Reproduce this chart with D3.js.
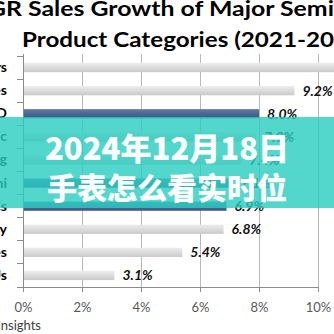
<!DOCTYPE html>
<html><head><meta charset="utf-8">
<script src="https://cdn.jsdelivr.net/npm/d3@7"></script>
<style>html,body{margin:0;padding:0;background:#fff;overflow:hidden}</style>
</head><body><svg id="c" width="334" height="334"></svg>
<script>
const categories = ["Sensors/Actuators","Opto Devices","Total O-S-D","Logic","Analog","Total Semi","Total ICs","Memory","Discretes","MPUs"];
const values = [11.4, 9.2, 8.0, 7.9, 7.4, 7.1, 6.9, 6.8, 5.4, 3.1];
const valueLabels = ["11.4%","9.2%","8.0%","7.9%","7.4%","7.1%","6.9%","6.8%","5.4%","3.1%"];
const highlighted = ["Total O-S-D","Total Semi","Total ICs"];
const xTicks = [0,2,4,6,8,10];
const titleLines = ["CAGR Sales Growth of Major Semiconductor","Product Categories (2021-2026)"];
const overlayLines = ["2024年12月18日","手表怎么看实时位"];
const sourceText = "Source: IC Insights";

const svg = d3.select("#c");
const W = 334, H = 334;
const x = d3.scaleLinear().domain([0,10]).range([23,318]);
const y = d3.scaleBand().domain(categories).range([56,287]).paddingInner(0.6).paddingOuter(0.3);

const defs = svg.append("defs");
function grad(id, stops){
  const g = defs.append("linearGradient").attr("id",id).attr("x1",0).attr("y1",0).attr("x2",0).attr("y2",1);
  stops.forEach(s=>g.append("stop").attr("offset",s[0]).attr("stop-color",s[1]));
}
grad("gGrey",[["0%","#ececec"],["45%","#dedede"],["100%","#c9c9c9"]]);
grad("gBlue",[["0%","#607ca6"],["50%","#4c6892"],["100%","#3d5781"]]);

// title
const tFont = "Lato, 'Open Sans', sans-serif";
const tSize = 21;
function measure(str){
  const t = svg.append("text").attr("font-family",tFont).attr("font-weight","bold").attr("font-size",tSize).attr("xml:space","preserve").text(str);
  const w = t.node().getComputedTextLength(); t.remove(); return w;
}
const l1pre = measure("CAGR "), l1vis = measure("Sales Growth of Major Semi"), l1full = measure(titleLines[0]);
const k1 = 306 / l1vis;
svg.append("text").attr("x",28 - l1pre*k1).attr("y",16).attr("font-family",tFont).attr("font-weight","bold").attr("font-size",tSize)
  .attr("textLength",l1full*k1).attr("lengthAdjust","spacingAndGlyphs").attr("fill","#000").text(titleLines[0]);
const l2vis = measure("Product Categories (2021-20"), l2full = measure(titleLines[1]);
const k2 = 312 / l2vis;
svg.append("text").attr("x",22).attr("y",47).attr("font-family",tFont).attr("font-weight","bold").attr("font-size",tSize)
  .attr("textLength",l2full*k2).attr("lengthAdjust","spacingAndGlyphs").attr("fill","#000").text(titleLines[1]);

// gridlines
svg.append("g").selectAll("line").data(xTicks).join("line")
  .attr("x1",d=>x(d)).attr("x2",d=>x(d)).attr("y1",54).attr("y2",292)
  .attr("stroke",d=>d===0?"#8c8c8c":"#b8b8b8").attr("stroke-width",1).attr("shape-rendering","crispEdges");

// x axis
const xa = svg.append("g").attr("transform","translate(0,287)")
  .call(d3.axisBottom(x).tickValues(xTicks).tickFormat(d=>d+"%").tickSize(5).tickPadding(11));
xa.select(".domain").attr("stroke","#8c8c8c");
xa.selectAll(".tick line").attr("stroke","#8c8c8c");
xa.selectAll("text").attr("font-family","Lato, sans-serif").attr("font-size",13).attr("fill","#595959");

// y axis
const ya = svg.append("g").attr("transform","translate(23,0)")
  .call(d3.axisLeft(y).tickSize(0).tickPadding(16));
ya.select(".domain").attr("stroke","#8c8c8c");
ya.selectAll("text").attr("font-family","Lato, sans-serif").attr("font-weight","bold").attr("font-size",14).attr("fill","#000");
const bounds = categories.map((c,i)=>y(c) - y.step()*y.paddingInner()/2).concat([287]);
svg.append("g").selectAll("line").data(bounds).join("line")
  .attr("x1",17).attr("x2",23).attr("y1",d=>d).attr("y2",d=>d).attr("stroke","#8c8c8c").attr("shape-rendering","crispEdges");

// bars
svg.append("g").selectAll("rect").data(categories).join("rect")
  .attr("x",x(0)+1).attr("y",d=>y(d)).attr("height",y.bandwidth())
  .attr("width",(d,i)=>x(values[i])-x(0)-1)
  .attr("fill",d=>highlighted.includes(d)?"url(#gBlue)":"url(#gGrey)");

// value labels
svg.append("g").selectAll("text").data(categories).join("text")
  .attr("x",(d,i)=>x(values[i])+8).attr("y",d=>y(d)+y.bandwidth()/2).attr("dy","0.36em")
  .attr("font-family","Lato, sans-serif").attr("font-weight","bold").attr("font-style","italic").attr("font-size",14)
  .attr("fill","#111").text((d,i)=>valueLabels[i]);

// source
svg.append("text").attr("x",41).attr("y",330).attr("text-anchor","end")
  .attr("font-family","Lato, sans-serif").attr("font-size",13).attr("fill","#404040").text(sourceText);

// overlay
svg.append("rect").attr("x",0).attr("y",117).attr("width",W).attr("height",91)
  .attr("fill","rgb(40,205,192)").attr("opacity",0.8);
const ov = svg.append("g").attr("font-family","'Noto Sans CJK SC', sans-serif").attr("font-weight",900)
  .attr("fill","#fff").attr("text-anchor","middle");
ov.append("text").attr("x",167).attr("y",160).attr("font-size",31).text(overlayLines[0]);
ov.append("text").attr("x",167).attr("y",199).attr("font-size",30).text(overlayLines[1]);
</script></body></html>
